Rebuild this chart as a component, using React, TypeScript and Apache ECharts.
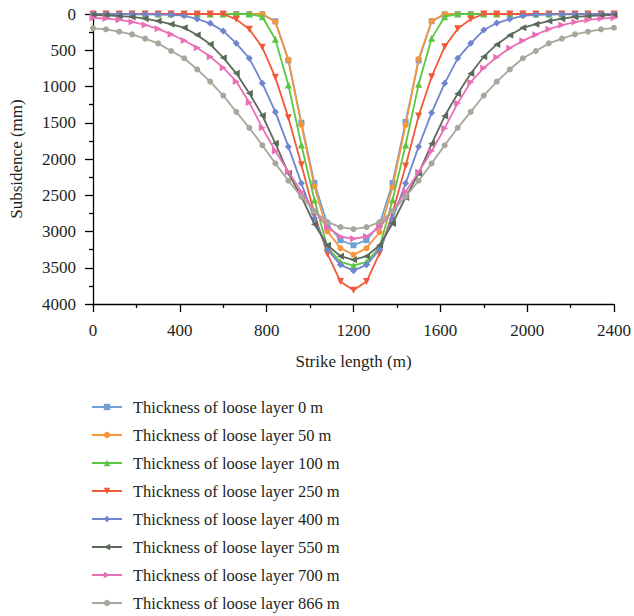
import React, { useEffect, useRef } from "react";
import * as echarts from "echarts";

// Strike positions (m)
const strike = [
  0, 60, 120, 180, 240, 300, 360, 420, 480, 540, 600, 660, 720, 780, 840, 900, 960, 1020, 1080, 1140,
  1200, 1260, 1320, 1380, 1440, 1500, 1560, 1620, 1680, 1740, 1800, 1860, 1920, 1980, 2040, 2100,
  2160, 2220, 2280, 2340, 2400,
];

// Subsidence (mm) per loose-layer thickness
const s0 = [
  0, 0, 0, 0, 0, 0, 0, 0, 0, 0, 0, 0, 0, 5, 100, 640, 1500, 2330, 2900, 3120, 3190,
  3120, 2900, 2330, 1490, 640, 100, 5, 0, 0, 0, 0, 0, 0, 0, 0, 0, 0, 0, 0, 0,
];
const s50 = [
  0, 0, 0, 0, 0, 0, 0, 0, 0, 0, 0, 0, 0, 0, 110, 630, 1530, 2380, 3000, 3230, 3320,
  3230, 3010, 2390, 1531, 621, 97, 0, 0, 0, 0, 0, 0, 0, 0, 0, 0, 0, 0, 0, 0,
];
const s100 = [
  0, 0, 0, 0, 0, 0, 0, 0, 0, 0, 0, 0, 0, 37, 349, 979, 1807, 2566, 3220, 3420, 3470,
  3420, 3220, 2566, 1807, 970, 336, 37, 0, 0, 0, 0, 0, 0, 0, 0, 0, 0, 0, 0, 0,
];
const s250 = [
  0, 0, 0, 0, 0, 0, 0, 0, 0, 0, 0, 74, 211, 460, 874, 1430, 2080, 2760, 3310, 3690, 3810,
  3690, 3300, 2740, 2097, 1407, 865, 451, 205, 70, 0, 0, 0, 0, 0, 0, 0, 0, 0, 0, 0,
];
const s400 = [
  3, 3, 3, 4, 5, 8, 12, 23, 69, 129, 234, 405, 611, 956, 1350, 1830, 2336, 2820, 3250, 3460, 3540,
  3460, 3250, 2820, 2336, 1830, 1361, 956, 611, 405, 221, 125, 69, 25, 12, 8, 5, 4, 3, 3, 3,
];
const s550 = [
  14, 18, 28, 41, 64, 97, 140, 189, 290, 418, 602, 818, 1094, 1400, 1784, 2198, 2520, 2900, 3190, 3340, 3390,
  3340, 3190, 2890, 2530, 2200, 1790, 1407, 1100, 820, 589, 420, 292, 190, 140, 97, 64, 41, 28, 20, 16,
];
const s700 = [
  55, 62, 80, 110, 150, 205, 280, 365, 465, 590, 740, 930, 1220, 1570, 1890, 2175, 2450, 2720, 2940, 3070, 3100,
  3070, 2940, 2720, 2450, 2180, 1890, 1575, 1230, 940, 745, 595, 470, 370, 285, 210, 152, 112, 82, 63, 50,
];
const s866 = [
  198, 211, 244, 281, 340, 405, 510, 610, 765, 933, 1125, 1350, 1570, 1810, 2060, 2300, 2520, 2720, 2870, 2940, 2966,
  2940, 2870, 2720, 2520, 2300, 2060, 1810, 1570, 1350, 1125, 933, 765, 610, 510, 405, 340, 281, 244, 211, 190,
];

const seriesNames = [
  "Thickness of loose layer 0 m",
  "Thickness of loose layer 50 m",
  "Thickness of loose layer 100 m",
  "Thickness of loose layer 250 m",
  "Thickness of loose layer 400 m",
  "Thickness of loose layer 550 m",
  "Thickness of loose layer 700 m",
  "Thickness of loose layer 866 m",
];
const seriesData = [s0, s50, s100, s250, s400, s550, s700, s866];
const colors = ["#6FA0D8", "#F7943C", "#5BC740", "#F0593A", "#6F86CF", "#5A6B5A", "#E86FB5", "#A9A69C"];
const symbols = ["rect", "circle", "triangle", "triangle", "diamond", "triangle", "triangle", "circle"];
const rotations = [0, 0, 0, 180, 0, 90, -90, 0];
const sizes = [6, 6, 7, 7, 7, 7, 7, 6];

const FONT = "'Liberation Serif', 'DejaVu Serif', serif";
const TEXT = "#231F20";

export default function App() {
  const ref = useRef<HTMLDivElement>(null);
  useEffect(() => {
    if (!ref.current) return;
    const chart = echarts.init(ref.current, null, { renderer: "svg" });
    const option = {
      animation: false,
      backgroundColor: "#fff",
      grid: { left: 90, right: 18, top: 14, bottom: 312, containLabel: false },
      legend: {
        orient: "vertical",
        left: 91,
        top: 398,
        height: 300,
        padding: 0,
        itemWidth: 30,
        itemHeight: 8,
        itemGap: 10,
        data: seriesNames,
        textStyle: {
          fontFamily: FONT,
          fontSize: 16.5,
          color: TEXT,
          lineHeight: 18,
          padding: [0, 0, 0, 6],
        },
      },
      xAxis: {
        type: "value",
        min: 0,
        max: 2400,
        interval: 400,
        name: "Strike length (m)",
        nameLocation: "middle",
        nameGap: 49,
        nameTextStyle: { fontFamily: FONT, fontSize: 17, color: TEXT },
        axisLine: { show: true, onZero: false, lineStyle: { color: "#000", width: 1.3 } },
        axisTick: { show: true, inside: false, length: 8, lineStyle: { color: "#000", width: 1.3 } },
        minorTick: { show: true, splitNumber: 2, length: 4, lineStyle: { color: "#000", width: 1.3 } },
        splitLine: { show: false },
        minorSplitLine: { show: false },
        axisLabel: {
          fontFamily: FONT,
          fontSize: 17,
          color: TEXT,
          margin: 18,
          formatter: (v: number) => String(v),
        },
      },
      yAxis: {
        type: "value",
        inverse: true,
        min: 0,
        max: 4000,
        interval: 500,
        name: "Subsidence (mm)",
        nameLocation: "middle",
        nameGap: 68,
        nameTextStyle: { fontFamily: FONT, fontSize: 17, color: TEXT },
        axisLine: { show: true, onZero: false, lineStyle: { color: "#000", width: 1.3 } },
        axisTick: { show: true, inside: false, length: 8, lineStyle: { color: "#000", width: 1.3 } },
        minorTick: { show: true, splitNumber: 2, length: 4, lineStyle: { color: "#000", width: 1.3 } },
        splitLine: { show: false },
        minorSplitLine: { show: false },
        axisLabel: {
          fontFamily: FONT,
          fontSize: 17,
          color: TEXT,
          margin: 17,
          formatter: (v: number) => String(v),
        },
      },
      series: seriesNames.map((name, i) => ({
        name,
        type: "line",
        data: strike.map((x, j) => [x, seriesData[i][j]]),
        symbol: symbols[i],
        symbolRotate: rotations[i],
        symbolSize: sizes[i],
        showAllSymbol: true,
        color: colors[i],
        lineStyle: { color: colors[i], width: 1.8 },
        itemStyle: { color: colors[i] },
        z: 2 + i,
      })),
    };
    chart.setOption(option as any);
    return () => chart.dispose();
  }, []);
  return (
    <div
      ref={ref}
      style={{ position: "absolute", left: 0, top: 0, width: 634, height: 616 }}
    />
  );
}
